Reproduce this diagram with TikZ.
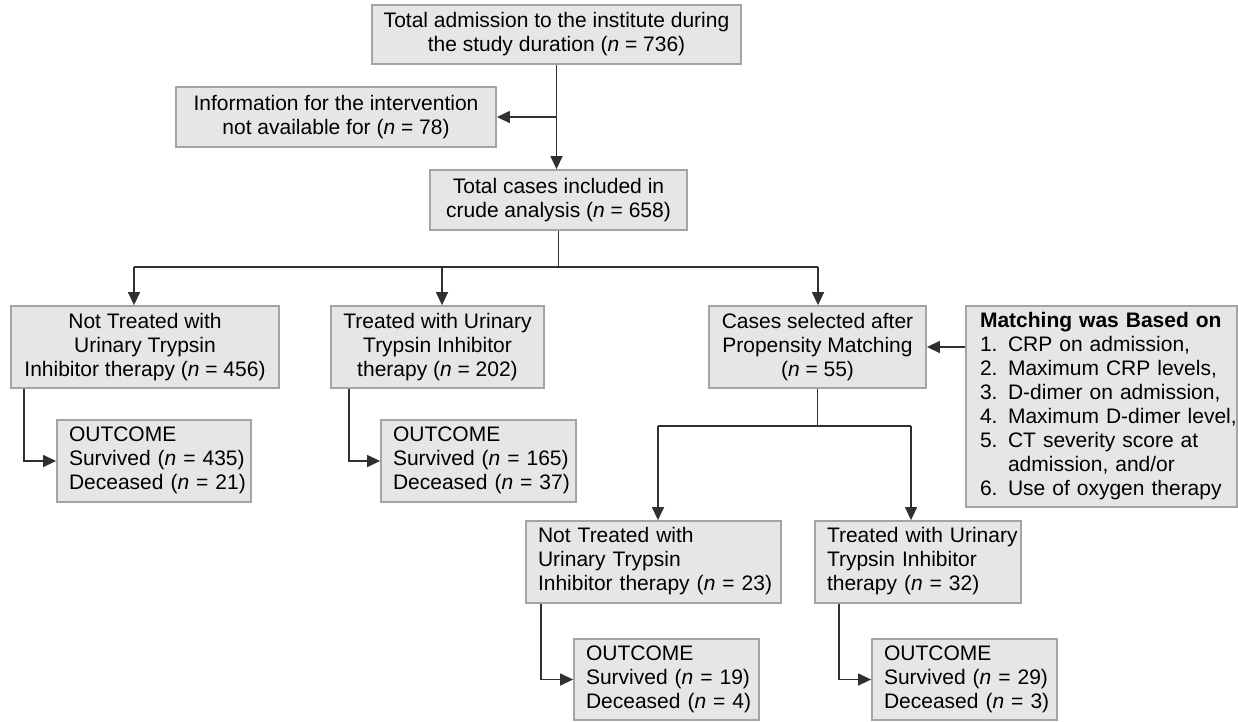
\documentclass[tikz,border=0pt]{standalone}
\usepackage{fontspec}
\setmainfont{Liberation Sans}
\usetikzlibrary{arrows.meta}
\definecolor{boxfill}{HTML}{E6E6E6}
\definecolor{boxdraw}{HTML}{A4A4A4}
\definecolor{linec}{HTML}{303030}
\newcommand{\nn}{\textit{n}}
\newcommand{\lines}[1]{\begin{tabular}{@{}l@{}}#1\end{tabular}}
\begin{document}
\begin{tikzpicture}[x=1pt,y=-1pt,
  box/.style={draw=boxdraw,fill=boxfill,line width=1.8pt,inner xsep=12pt,inner ysep=0pt,
    font=\fontsize{21}{24}\selectfont,align=center},
  lbox/.style={box,align=left},
  conn/.style={draw=linec,line width=1.4pt},
  arr/.style={conn,-{Triangle[length=13pt,width=12pt]}}]
\useasboundingbox (0,0) rectangle (1238,721);

\node[box,minimum width=369pt,minimum height=59pt] (top) at (556.5,34.5)
  {Total admission to the institute during\\the study duration (\nn{} = 736)};
\node[box,minimum width=320pt,minimum height=60pt] (info) at (336,117)
  {Information for the intervention\\not available for (\nn{} = 78)};
\node[box,minimum width=257pt,minimum height=60pt] (crude) at (558.5,200)
  {Total cases included in\\crude analysis (\nn{} = 658)};
\node[box,minimum width=268pt,minimum height=82pt] (nt) at (145,347)
  {Not Treated with\\Urinary Trypsin\\Inhibitor therapy (\nn{} = 456)};
\node[box,minimum width=209pt,minimum height=82pt] (tr) at (437.5,347)
  {Treated with Urinary\\Trypsin Inhibitor\\therapy (\nn{} = 202)};
\node[box,minimum width=217pt,minimum height=82pt] (cases) at (817.5,347)
  {Cases selected after\\Propensity Matching\\(\nn{} = 55)};
\node[lbox,inner xsep=14pt,text width=243pt,minimum height=201pt] (match) at (1101.5,406.5)
  {\lines{\textbf{Matching was Based on}\\
   1. CRP on admission,\\
   2. Maximum CRP levels,\\
   3. D-dimer on admission,\\
   4. Maximum D-dimer level,\\
   5. CT severity score at\\
   \phantom{5. }admission, and/or\\
   6. Use of oxygen therapy}};
\node[lbox,text width=170pt,minimum height=82pt] (o1) at (154,461)
  {\lines{OUTCOME\\Survived (\nn{} = 435)\\Deceased (\nn{} = 21)}};
\node[lbox,text width=171pt,minimum height=82pt] (o2) at (478.5,461)
  {\lines{OUTCOME\\Survived (\nn{} = 165)\\Deceased (\nn{} = 37)}};
\node[lbox,text width=231pt,minimum height=82pt] (nt2) at (653.5,562)
  {\lines{Not Treated with\\Urinary Trypsin\\Inhibitor therapy (\nn{} = 23)}};
\node[lbox,text width=182pt,minimum height=82pt] (tr2) at (918,562)
  {\lines{Treated with Urinary\\Trypsin Inhibitor\\therapy (\nn{} = 32)}};
\node[lbox,text width=161pt,minimum height=81pt] (o3) at (666.5,679.5)
  {\lines{OUTCOME\\Survived (\nn{} = 19)\\Deceased (\nn{} = 4)}};
\node[lbox,text width=161pt,minimum height=81pt] (o4) at (964.5,679.5)
  {\lines{OUTCOME\\Survived (\nn{} = 29)\\Deceased (\nn{} = 3)}};

% connectors
\coordinate (j1) at (556.5,117);
\draw[arr] (top.south) -- (top.south |- crude.north);
\draw[arr] (j1) -- (info.east);

\coordinate (hL) at (134,267);
\coordinate (hM) at (442,267);
\coordinate (hR) at (818,267);
\draw[conn] (crude.south) -- (crude.south |- hL);
\draw[conn] (hL) -- (hR);
\draw[arr] (hL) -- (hL |- nt.north);
\draw[arr] (hM) -- (hM |- tr.north);
\draw[arr] (hR) -- (hR |- cases.north);

\coordinate (v1) at (24,0);
\coordinate (v2) at (349,0);
\draw[arr] (v1 |- nt.south) |- (o1.west);
\draw[arr] (v2 |- tr.south) |- (o2.west);

\draw[arr] (match.west |- cases.east) -- (cases.east);

\coordinate (gL) at (658,426);
\coordinate (gR) at (911,426);
\draw[conn] (cases.south) -- (cases.south |- gL);
\draw[conn] (gL) -- (gR);
\draw[arr] (gL) -- (gL |- nt2.north);
\draw[arr] (gR) -- (gR |- tr2.north);

\coordinate (v3) at (541,0);
\coordinate (v4) at (839,0);
\draw[arr] (v3 |- nt2.south) |- (o3.west);
\draw[arr] (v4 |- tr2.south) |- (o4.west);
\end{tikzpicture}
\end{document}
